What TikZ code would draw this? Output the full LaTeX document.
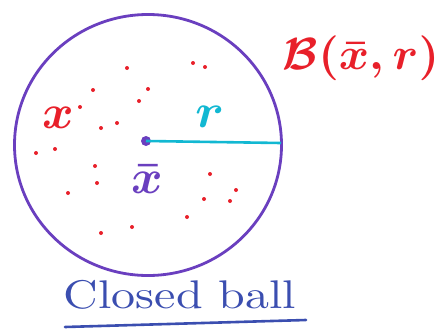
\documentclass[tikz,border=0pt]{standalone}
\usepackage{graphicx}
\usepackage{amsmath}
\usetikzlibrary{shapes.geometric}
\definecolor{circ}{HTML}{6A3FBF}
\definecolor{pts}{HTML}{E8202A}
\definecolor{rad}{HTML}{12B8D2}
\definecolor{ttl}{HTML}{3B4EB0}
\begin{document}
\begin{tikzpicture}[x=1pt,y=-1pt,
  dot/.style={circle,fill=pts,inner sep=0pt,minimum size=4pt},
  lbl/.style={inner sep=0pt}]
\useasboundingbox (0,0) rectangle (443,329);
\node[draw=circ,line width=2.8pt,ellipse,minimum width=267pt,minimum height=261pt,inner sep=0pt] (ball) at (148,145) {};
\node[circle,fill=circ,inner sep=0pt,minimum size=10pt] (c) at (146,141) {};
\coordinate (e) at (281,143);
\draw[rad,line width=2.6pt] (c.center) -- (e);
\node[lbl,text=rad] (r) at (210,117) {\scalebox{5.2}[4.8]{$\boldsymbol{r}$}};
\node[lbl,text=circ] (xbar) at (147,179) {\scalebox{4.8}{$\boldsymbol{\bar{x}}$}};
\node[lbl,text=pts] (x) at (58,118) {\scalebox{4.8}{$\boldsymbol{x}$}};
\node[lbl,text=pts] (B) at (361,58) {\scalebox{4.6}[4.5]{$\boldsymbol{\mathcal{B}(\bar{x},r)}$}};
\node[lbl,text=ttl] (title) at (180,295) {\scalebox{4.8}[4]{Closed ball}};
\coordinate (u1) at (65,327);
\coordinate (u2) at (306,320);
\draw[ttl,line width=2.6pt,line cap=round] (u1) -- (u2);
\foreach \p [count=\i] in {(127,68),(193,63),(205,67),(93,90),(148,89),(139,101),(80,107),(117,123),(101,128),(36,153),(55,149),(95,166),(97,183),(68,193),(210,174),(236,190),(204,199),(230,201),(187,217),(132,227),(101,233)}
  \node[dot] (d\i) at \p {};
\end{tikzpicture}
\end{document}
